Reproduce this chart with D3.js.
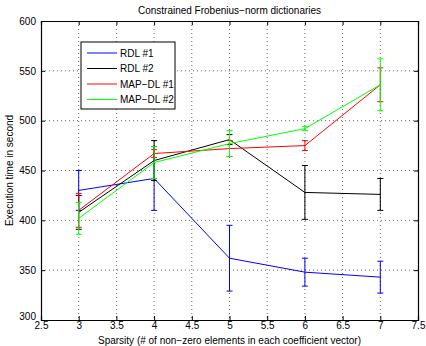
<!DOCTYPE html>
<html>
<head>
<meta charset="utf-8">
<script src="https://cdn.jsdelivr.net/npm/d3@7"></script>
<style>
  body { margin: 0; background: #fff; }
  svg text { font-family: "Liberation Sans", Arial, sans-serif; fill: #000; }
</style>
</head>
<body>
<div id="chart"></div>
<script>
// sparsity levels
const sparsity = [3, 4, 5, 6, 7];

// mean execution times and error half-widths per method
const rdl1 = [430, 442, 362, 348, 343];
const rdl1Err = [20, 32, 33, 14, 16];
const rdl2 = [408, 460, 481, 428, 426];
const rdl2Err = [17, 20, 5, 27, 16];
const mapdl1 = [410, 467, 472, 475, 536];
const mapdl1Err = [17, 4, 8, 5, 17];
const mapdl2 = [402, 458, 477, 492, 536];
const mapdl2Err = [16, 16, 13, 2, 26];

const seriesNames = ['RDL #1', 'RDL #2', 'MAP\u2212DL #1', 'MAP\u2212DL #2'];
const seriesColors = ['#0000ff', '#000000', '#ff0000', '#00ff00'];

const xTicks = [2.5, 3, 3.5, 4, 4.5, 5, 5.5, 6, 6.5, 7, 7.5];
const yTicks = [300, 350, 400, 450, 500, 550, 600];

const width = 426, height = 346;
const margin = { top: 21, right: 8, bottom: 26, left: 41 };
const innerW = width - margin.left - margin.right;
const innerH = height - margin.top - margin.bottom;

const svg = d3.select('#chart').append('svg')
  .attr('width', width)
  .attr('height', height);

const g = svg.append('g')
  .attr('transform', `translate(${margin.left},${margin.top})`);

const x = d3.scaleLinear().domain([2.5, 7.5]).range([0, innerW]);
const y = d3.scaleLinear().domain([300, 600]).range([innerH, 0]);

// grid (dotted)
g.append('g').selectAll('line')
  .data(xTicks.slice(1, -1))
  .join('line')
  .attr('x1', d => x(d)).attr('x2', d => x(d))
  .attr('y1', 0).attr('y2', innerH)
  .attr('stroke', '#000').attr('stroke-width', 0.6)
  .attr('stroke-dasharray', '1,3');

g.append('g').selectAll('line')
  .data(yTicks.slice(1, -1))
  .join('line')
  .attr('x1', 0).attr('x2', innerW)
  .attr('y1', d => y(d)).attr('y2', d => y(d))
  .attr('stroke', '#000').attr('stroke-width', 0.6)
  .attr('stroke-dasharray', '1,3');

// axes, MATLAB style with inward ticks
const xAxis = g.append('g')
  .attr('transform', `translate(0,${innerH})`)
  .call(d3.axisBottom(x).tickValues(xTicks).tickFormat(d3.format('')).tickSize(-4).tickPadding(2));
const yAxis = g.append('g')
  .call(d3.axisLeft(y).tickValues(yTicks).tickSize(-4).tickPadding(6));
g.append('g')
  .call(d3.axisTop(x).tickValues(xTicks).tickFormat('').tickSize(-4));
g.append('g')
  .attr('transform', `translate(${innerW},0)`)
  .call(d3.axisRight(y).tickValues(yTicks).tickFormat('').tickSize(-4));

g.selectAll('.domain').attr('stroke', '#000').attr('stroke-width', 1.2);
g.selectAll('.tick line').attr('stroke', '#000');
xAxis.selectAll('text').attr('font-size', 10).attr('y', 2).attr('dy', '0.71em');
yAxis.selectAll('text').attr('font-size', 10).attr('dx', '0.1em');
yAxis.selectAll('.tick').filter(d => d === 300).select('text').attr('dy', '-0.1em');

// series
const series = [
  { values: rdl1, err: rdl1Err },
  { values: rdl2, err: rdl2Err },
  { values: mapdl1, err: mapdl1Err },
  { values: mapdl2, err: mapdl2Err }
];

const line = d3.line().x(d => x(d[0])).y(d => y(d[1]));
const cap = 3;

series.forEach((s, i) => {
  const color = seriesColors[i];
  const pts = sparsity.map((sp, j) => [sp, s.values[j], s.err[j]]);
  const sg = g.append('g');
  sg.append('path')
    .datum(pts)
    .attr('d', line)
    .attr('fill', 'none')
    .attr('stroke', color)
    .attr('stroke-width', 1);
  const eb = sg.selectAll('g.eb').data(pts).join('g').attr('class', 'eb');
  eb.append('line')
    .attr('x1', d => x(d[0])).attr('x2', d => x(d[0]))
    .attr('y1', d => y(d[1] - d[2])).attr('y2', d => y(d[1] + d[2]))
    .attr('stroke', color).attr('stroke-width', 1);
  [1, -1].forEach(sgn => {
    eb.append('line')
      .attr('x1', d => x(d[0]) - cap).attr('x2', d => x(d[0]) + cap)
      .attr('y1', d => y(d[1] + sgn * d[2])).attr('y2', d => y(d[1] + sgn * d[2]))
      .attr('stroke', color).attr('stroke-width', 1);
  });
});

// legend
const legend = g.append('g').attr('transform', 'translate(40,21)');
legend.append('rect')
  .attr('x', 0).attr('y', 0)
  .attr('width', 94).attr('height', 67)
  .attr('fill', '#fff').attr('stroke', '#000').attr('stroke-width', 1);
seriesNames.forEach((name, i) => {
  const ly = 11 + i * 15.5;
  legend.append('line')
    .attr('x1', 6).attr('x2', 36)
    .attr('y1', ly).attr('y2', ly)
    .attr('stroke', seriesColors[i]).attr('stroke-width', 1);
  legend.append('text')
    .attr('x', 39).attr('y', ly)
    .attr('dy', '0.35em')
    .attr('font-size', 10)
    .text(name);
});

// title and axis labels
svg.append('text')
  .attr('x', margin.left + innerW / 2).attr('y', 14)
  .attr('text-anchor', 'middle').attr('font-size', 10)
  .text('Constrained Frobenius\u2212norm dictionaries');

svg.append('text')
  .attr('x', margin.left + innerW / 2).attr('y', 344)
  .attr('text-anchor', 'middle').attr('font-size', 10)
  .text('Sparsity (# of non\u2212zero elements in each coefficient vector)');

svg.append('text')
  .attr('transform', `translate(13,${margin.top + innerH / 2}) rotate(-90)`)
  .attr('text-anchor', 'middle').attr('font-size', 10)
  .text('Execution time in second');
</script>
</body>
</html>
